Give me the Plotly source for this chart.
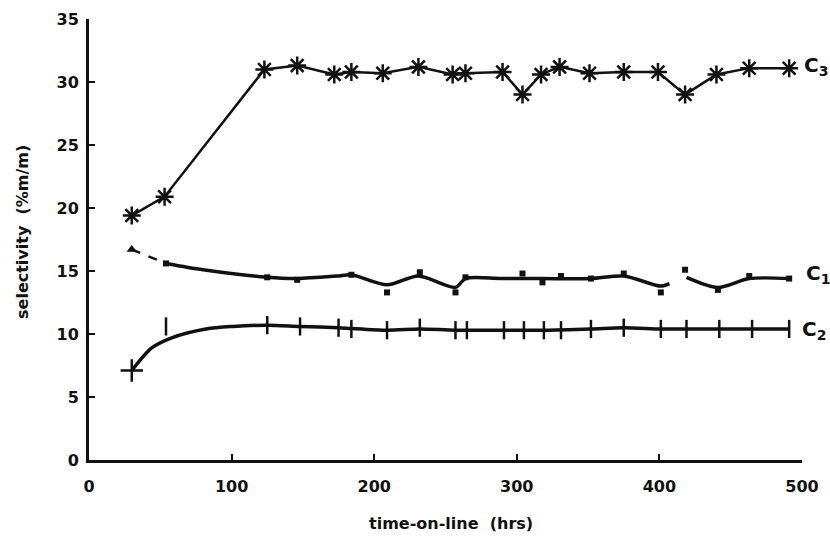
import plotly.graph_objects as go

# ---- data ----
x_ticks = [0, 100, 200, 300, 400, 500]
y_ticks = [0, 5, 10, 15, 20, 25, 30, 35]

# C3 (asterisk markers)
c3_x = [30, 53, 123, 146, 172, 184, 206, 231, 255, 264, 290, 304, 317, 330, 351, 375, 399, 418, 440, 463, 491]
c3_y = [19.4, 20.9, 31.0, 31.3, 30.6, 30.8, 30.7, 31.2, 30.6, 30.7, 30.8, 29.0, 30.6, 31.2, 30.7, 30.8, 30.8, 29.0, 30.6, 31.1, 31.1]

# C1 fitted curve (dashed start, then solid with a gap)
c1_dash_x = [30, 54]
c1_dash_y = [16.7, 15.6]
c1_line_x = [54, 80, 125, 146, 174, 184, 209, 231, 257, 264, 289, 317, 352, 375, 401, 407, None, 419, 441, 463, 491]
c1_line_y = [15.6, 15.1, 14.5, 14.4, 14.6, 14.7, 13.9, 14.6, 13.7, 14.4, 14.4, 14.4, 14.4, 14.6, 13.8, 14.0, None, 14.5, 13.7, 14.4, 14.4]
# C1 measured points
c1_x = [54, 125, 146, 184, 209, 232, 257, 264, 304, 318, 331, 352, 375, 401, 418, 441, 463, 491]
c1_y = [15.6, 14.5, 14.3, 14.7, 13.3, 14.9, 13.3, 14.5, 14.8, 14.1, 14.6, 14.4, 14.8, 13.3, 15.1, 13.5, 14.6, 14.4]
c1_start_x = [30]
c1_start_y = [16.7]

# C2 fitted curve and measured points
c2_line_x = [30, 44, 58, 82, 101, 125, 148, 175, 209, 232, 257, 291, 319, 352, 375, 401, 419, 442, 465, 491]
c2_line_y = [7.1, 8.9, 9.7, 10.4, 10.6, 10.7, 10.6, 10.5, 10.3, 10.4, 10.3, 10.3, 10.3, 10.4, 10.5, 10.4, 10.4, 10.4, 10.4, 10.4]
c2_x = [54, 125, 148, 175, 184, 209, 232, 257, 265, 291, 305, 319, 331, 352, 375, 401, 419, 442, 465, 491]
c2_y = [10.6, 10.7, 10.6, 10.5, 10.4, 10.3, 10.5, 10.3, 10.3, 10.3, 10.3, 10.3, 10.3, 10.4, 10.5, 10.4, 10.4, 10.4, 10.4, 10.4]
c2_start_x = [30]
c2_start_y = [7.1]

INK = "#111111"

fig = go.Figure()

# C3
fig.add_trace(go.Scatter(
    x=c3_x, y=c3_y, mode="lines+markers",
    line=dict(color=INK, width=2.5),
    marker=dict(symbol="asterisk-open", size=15, color=INK, line=dict(color=INK, width=2.5)),
    showlegend=False))

# C1
fig.add_trace(go.Scatter(
    x=c1_dash_x, y=c1_dash_y, mode="lines",
    line=dict(color=INK, width=2.5, dash="dash"), showlegend=False))
fig.add_trace(go.Scatter(
    x=c1_line_x, y=c1_line_y, mode="lines", connectgaps=False,
    line=dict(color=INK, width=3.5, shape="spline", smoothing=0.8), showlegend=False))
fig.add_trace(go.Scatter(
    x=c1_x, y=c1_y, mode="markers",
    marker=dict(symbol="square", size=6, color=INK), showlegend=False))
fig.add_trace(go.Scatter(
    x=c1_start_x, y=c1_start_y, mode="markers",
    marker=dict(symbol="triangle-up", size=9, color=INK), showlegend=False))

# C2
fig.add_trace(go.Scatter(
    x=c2_line_x, y=c2_line_y, mode="lines",
    line=dict(color=INK, width=3.5, shape="spline", smoothing=0.8), showlegend=False))
fig.add_trace(go.Scatter(
    x=c2_x, y=c2_y, mode="markers",
    marker=dict(symbol="line-ns-open", size=13, color=INK, line=dict(color=INK, width=2.5)),
    showlegend=False))
fig.add_trace(go.Scatter(
    x=c2_start_x, y=c2_start_y, mode="markers",
    marker=dict(symbol="cross-thin-open", size=16, color=INK, line=dict(color=INK, width=2.5)),
    showlegend=False))

tick_font = dict(family="DejaVu Sans", size=16, color=INK, weight="bold")

fig.update_xaxes(
    range=[0, 500], tickvals=x_ticks, ticktext=[str(v) for v in x_ticks],
    showline=True, linecolor=INK, linewidth=3, mirror=False,
    ticks="inside", ticklen=6, tickwidth=2, tickcolor=INK,
    showgrid=False, zeroline=False, tickfont=tick_font, ticklabelstandoff=10)
fig.update_yaxes(
    range=[0, 35], tickvals=y_ticks, ticktext=[str(v) for v in y_ticks],
    showline=True, linecolor=INK, linewidth=3,
    ticks="inside", ticklen=6, tickwidth=2, tickcolor=INK,
    showgrid=False, zeroline=False, tickfont=tick_font, ticklabelstandoff=4)

label_font = dict(family="DejaVu Sans", size=20, color=INK, weight="bold")
ann = [
    dict(x=500, y=31.3, xref="x", yref="y", text="C<sub>3</sub>", showarrow=False,
         xanchor="left", xshift=0, font=label_font),
    dict(x=500, y=14.8, xref="x", yref="y", text="C<sub>1</sub>", showarrow=False,
         xanchor="left", xshift=2, font=label_font),
    dict(x=500, y=10.3, xref="x", yref="y", text="C<sub>2</sub>", showarrow=False,
         xanchor="left", xshift=-2, font=label_font),
    dict(x=0.508, y=-0.143, xref="paper", yref="paper", text="time-on-line  (hrs)",
         showarrow=False, xanchor="center", yanchor="middle",
         font=dict(family="DejaVu Sans", size=16, color=INK, weight="bold")),
    dict(x=-0.094, y=0.517, xref="paper", yref="paper", text="selectivity  (%m/m)",
         showarrow=False, textangle=-90, xanchor="center", yanchor="middle",
         font=dict(family="DejaVu Sans", size=16, color=INK, weight="bold")),
]

fig.update_layout(
    width=830, height=538,
    margin=dict(l=89, r=28, t=19, b=78, autoexpand=False),
    paper_bgcolor="white", plot_bgcolor="white",
    annotations=ann, showlegend=False)

fig.write_html(
    "out.html",
    config={"displayModeBar": False},
    post_script="document.body.style.margin='0';document.body.style.overflow='hidden';")
